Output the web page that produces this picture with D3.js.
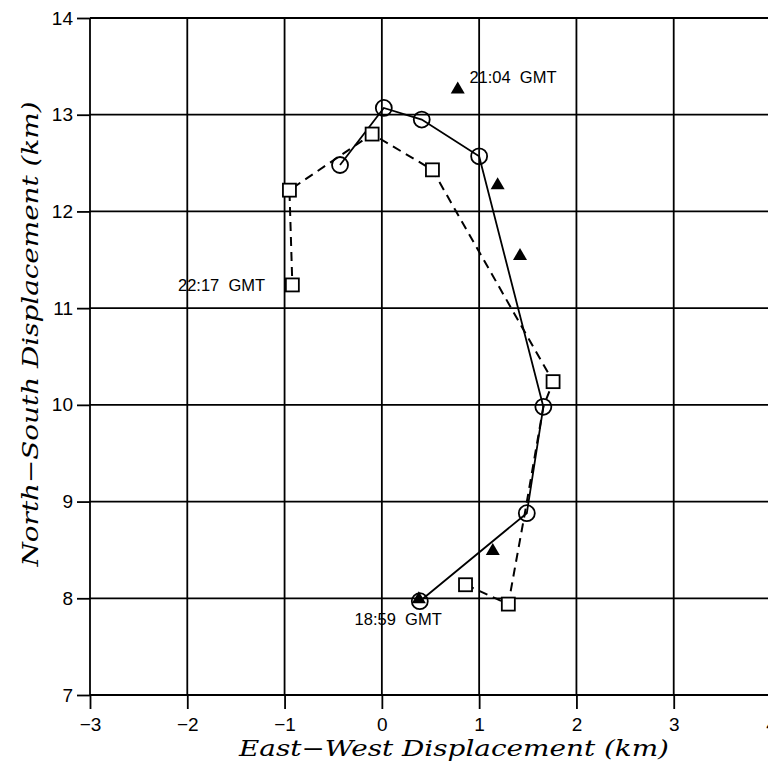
<!DOCTYPE html>
<html><head><meta charset="utf-8">
<script src="https://cdn.jsdelivr.net/npm/d3@7"></script>
<style>body{margin:0;background:#fff}svg{display:block}</style>
</head><body>
<svg id="c" width="768" height="765"></svg>
<script>
// Data
const xTicks = [-3,-2,-1,0,1,2,3,4];
const yTicks = [7,8,9,10,11,12,13,14];
// solid track with circles
const circleX = [0.39, 1.49, 1.66, 1.00, 0.41, 0.02, -0.43];
const circleY = [7.97, 8.88, 9.98, 12.57, 12.95, 13.07, 12.48];
// dashed track
const dashX = [0.86, 1.30, 1.47, 1.66, 1.76, 0.52, -0.10, -0.95, -0.92];
const dashY = [8.14, 7.94, 8.88, 9.98, 10.24, 12.43, 12.80, 12.22, 11.24];
// squares
const squareX = [0.86, 1.30, 1.76, 0.52, -0.10, -0.95, -0.92];
const squareY = [8.14, 7.94, 10.24, 12.43, 12.80, 12.22, 11.24];
// triangles
const triX = [0.78, 1.19, 1.42, 1.14, 0.38];
const triY = [13.27, 12.28, 11.55, 8.50, 8.00];
// labels
const labelText = ["21:04  GMT", "22:17  GMT", "18:59  GMT"];
const labelX = [0.90, -1.20, -0.28];
const labelY = [13.39, 11.24, 7.78];
const labelAnchor = ["start", "end", "start"];

const svg = d3.select("#c");
const x = d3.scaleLinear().domain([-3,4]).range([90,771]);
const y = d3.scaleLinear().domain([7,14]).range([695,18]);

// grid
const g = svg.append("g");
g.selectAll(".vg").data(xTicks).join("line")
  .attr("x1",d=>x(d)).attr("x2",d=>x(d)).attr("y1",y(14)).attr("y2",y(7))
  .attr("stroke","#000").attr("stroke-width",1.8);
g.selectAll(".hg").data(yTicks).join("line")
  .attr("x1",x(-3)).attr("x2",x(4)).attr("y1",d=>y(d)).attr("y2",d=>y(d))
  .attr("stroke","#000").attr("stroke-width",1.8);

// axes
const xAxis = d3.axisBottom(x).tickValues(xTicks).tickSize(14).tickPadding(9)
  .tickFormat(d=>d<0?"\u2212"+Math.abs(d):String(d));
const ya = d3.axisLeft(y).tickValues(yTicks).tickSize(13).tickPadding(4)
  .tickFormat(d3.format("d"));
const gx = svg.append("g").attr("transform",`translate(0,${y(7)})`).call(xAxis);
const gy = svg.append("g").attr("transform",`translate(${x(-3)},0)`).call(ya);
[gx,gy].forEach(a=>{
  a.select(".domain").remove();
  a.selectAll("line").attr("stroke","#000").attr("stroke-width",1.8);
  a.selectAll("text").attr("font-family","Liberation Sans, Arial, sans-serif")
    .attr("font-size",19).attr("fill","#000");
});

// titles
svg.append("text").attr("x",454).attr("y",756).attr("text-anchor","middle")
  .attr("font-family","DejaVu Serif, serif").attr("font-style","italic")
  .attr("font-size",22).attr("textLength",430).attr("lengthAdjust","spacingAndGlyphs")
  .text("East\u2212West Displacement (km)");
svg.append("text").attr("transform",`translate(38,334) rotate(-90)`)
  .attr("text-anchor","middle")
  .attr("font-family","DejaVu Serif, serif").attr("font-style","italic")
  .attr("font-size",22).attr("textLength",465).attr("lengthAdjust","spacingAndGlyphs")
  .text("North\u2212South Displacement (km)");

// lines
const line = d3.line().x(d=>x(d[0])).y(d=>y(d[1]));
svg.append("path").datum(dashX.map((v,i)=>[v,dashY[i]])).attr("d",line)
  .attr("fill","none").attr("stroke","#000").attr("stroke-width",2).attr("stroke-dasharray","9,6");
svg.append("path").datum(circleX.map((v,i)=>[v,circleY[i]])).attr("d",line)
  .attr("fill","none").attr("stroke","#000").attr("stroke-width",1.8);

// squares
svg.selectAll(".sq").data(squareX.map((v,i)=>[v,squareY[i]])).join("rect")
  .attr("x",d=>x(d[0])-6.5).attr("y",d=>y(d[1])-6.5).attr("width",13).attr("height",13)
  .attr("fill","#fff").attr("stroke","#000").attr("stroke-width",1.8);
// circles
svg.selectAll(".ci").data(circleX.map((v,i)=>[v,circleY[i]])).join("circle")
  .attr("cx",d=>x(d[0])).attr("cy",d=>y(d[1])).attr("r",8)
  .attr("fill","none").attr("stroke","#000").attr("stroke-width",1.8);
// triangles
svg.selectAll(".tr").data(triX.map((v,i)=>[v,triY[i]])).join("path")
  .attr("transform",d=>`translate(${x(d[0])},${y(d[1])})`)
  .attr("d","M0,-7L7,5L-7,5Z").attr("fill","#000");

// labels
svg.selectAll(".lb").data(labelText).join("text")
  .attr("x",(d,i)=>x(labelX[i])).attr("y",(d,i)=>y(labelY[i]))
  .attr("dy","0.35em")
  .attr("text-anchor",(d,i)=>labelAnchor[i])
  .attr("font-family","Liberation Sans, Arial, sans-serif").attr("font-size",16.5)
  .style("white-space","pre")
  .text(d=>d);
</script>
</body></html>
